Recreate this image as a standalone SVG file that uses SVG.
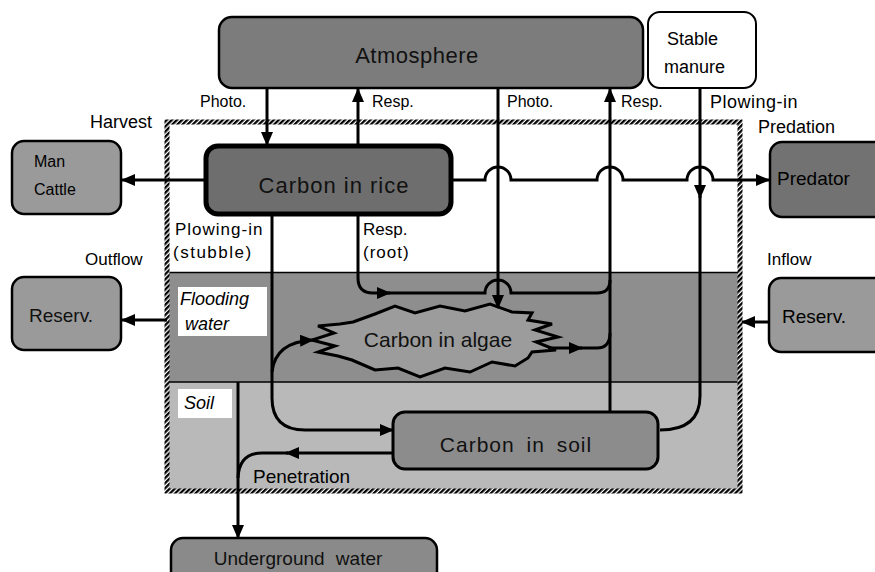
<svg xmlns="http://www.w3.org/2000/svg" width="875" height="572" viewBox="0 0 875 572">
<style>
.c{fill:none;stroke:#000;stroke-width:3}
.n{stroke:#000;stroke-width:2.5}
.t{font-family:"Liberation Sans","DejaVu Sans",sans-serif;fill:#000}
.nt{font-family:"Liberation Sans","DejaVu Sans",sans-serif;fill:#111;text-anchor:middle}
.lbl{font-size:17px}
.it{font-style:italic;font-size:18px}
</style>
<defs>
<marker id="arr" markerUnits="userSpaceOnUse" markerWidth="14" markerHeight="12" refX="13" refY="6" orient="auto">
<path d="M0,0 L14,6 L0,12 z" fill="#000"/>
</marker>
<pattern id="hatch" patternUnits="userSpaceOnUse" width="3.6" height="3.6" patternTransform="rotate(45)">
<rect width="3.6" height="3.6" fill="#fff"/>
<rect width="2.3" height="3.6" fill="#000"/>
</pattern>
</defs>
<rect width="875" height="572" fill="#fff"/>
<g id="layers">
<rect x="169" y="272" width="570" height="110" fill="#8e8e8e"/>
<rect x="169" y="382" width="570" height="108" fill="#b9b9b9"/>
<line x1="169" y1="272.5" x2="739" y2="272.5" stroke="#000" stroke-width="1.5"/>
<line x1="169" y1="382" x2="739" y2="382" stroke="#000" stroke-width="1.5"/>
</g>
<g id="flooding-label">
<rect x="178" y="287" width="89" height="49" fill="#fff"/>
<text class="t it" x="180" y="305">Flooding</text>
<text class="t it" x="185" y="330">water</text>
</g>
<g id="soil-label">
<rect x="178" y="389" width="54" height="29" fill="#fff"/>
<text class="t it" x="184" y="409" font-size="17">Soil</text>
</g>
<g id="atmosphere">
<rect class="n" x="219" y="17" width="424" height="71" rx="13" fill="#7c7c7c"/>
<text class="nt" x="417" y="63" font-size="22" letter-spacing="0.5">Atmosphere</text>
</g>
<g id="stable-manure">
<rect x="648" y="12" width="108" height="76" rx="12" fill="#fff" stroke="#000" stroke-width="2"/>
<text class="t" x="667" y="45" font-size="18">Stable</text>
<text class="t" x="664" y="73" font-size="18">manure</text>
</g>
<g id="man-cattle">
<rect class="n" x="12" y="141" width="109" height="73" rx="12" fill="#9a9a9a"/>
<text class="t" x="34" y="167" font-size="16">Man</text>
<text class="t" x="34" y="195" font-size="16">Cattle</text>
</g>
<g id="carbon-rice">
<rect x="206" y="146" width="245" height="68" rx="12" fill="#6e6e6e" stroke="#000" stroke-width="5"/>
<text class="nt" x="334" y="193" font-size="22" letter-spacing="1">Carbon in rice</text>
</g>
<g id="predator">
<rect class="n" x="770" y="142" width="120" height="75" rx="12" fill="#727272"/>
<text class="t" x="777" y="185" font-size="19">Predator</text>
</g>
<g id="reserv-left">
<rect class="n" x="12" y="277" width="109" height="73" rx="12" fill="#9a9a9a"/>
<text class="nt" x="61" y="322" font-size="19">Reserv.</text>
</g>
<g id="reserv-right">
<rect class="n" x="769" y="278" width="120" height="74" rx="12" fill="#9a9a9a"/>
<text class="t" x="782" y="323" font-size="19">Reserv.</text>
</g>
<g id="carbon-algae">
<polygon points="353,322 375,314 395,306 415,313 440,306 465,311 490,304 512,312 532,313 528,320 552,324 535,330 558,337 536,342 556,350 532,352 528,358 515,366 492,362 470,372 445,368 420,377 398,368 375,370 352,360 338,356 318,352 335,346 312,340 334,333 318,326 340,324" fill="#9c9c9c" stroke="#000" stroke-width="3"/>
<text class="nt" x="438" y="347" font-size="21">Carbon in algae</text>
</g>
<g id="carbon-soil">
<rect x="393" y="412" width="265" height="57" rx="12" fill="#8c8c8c" stroke="#000" stroke-width="3"/>
<text class="nt" x="516" y="452" font-size="21" letter-spacing="1" word-spacing="5">Carbon in soil</text>
</g>
<g id="underground-water">
<rect class="n" x="171" y="538" width="266" height="45" rx="12" fill="#8a8a8a"/>
<text class="nt" x="298" y="565" font-size="19" word-spacing="6">Underground water</text>
</g>
<g id="boundary">
<rect x="167" y="122" width="573" height="369" fill="none" stroke="url(#hatch)" stroke-width="5"/>
</g>
<g id="connectors">
<path class="c" d="M206,180 H122" marker-end="url(#arr)"/>
<path class="c" d="M267,88 V145" marker-end="url(#arr)"/>
<path class="c" d="M358,145 V89" marker-end="url(#arr)"/>
<path class="c" d="M498,88 V308" marker-end="url(#arr)"/>
<path class="c" d="M610,412 V89" marker-end="url(#arr)"/>
<path class="c" d="M700,88 V198" marker-end="url(#arr)"/>
<path class="c" d="M700,196 V396 Q700,430 660,430"/>
<path class="c" d="M451,180 H485 A13,13 0 0 1 511,180 H597 A13,13 0 0 1 623,180 H687 A13,13 0 0 1 713,180 H769" marker-end="url(#arr)"/>
<path class="c" d="M272,214 V398 Q272,430 305,430 H393" marker-end="url(#arr)"/>
<path class="c" d="M358,214 V278 Q358,293 373,293 H390" marker-end="url(#arr)"/>
<path class="c" d="M388,293 H485 A13,13 0 0 1 511,293 H597 Q610,293 610,280"/>
<path class="c" d="M548,348 H582" marker-end="url(#arr)"/>
<path class="c" d="M580,348 H597 Q610,348 610,333"/>
<path class="c" d="M272,372 Q275,342 313,340" marker-end="url(#arr)"/>
<path class="c" d="M393,453 H286" marker-end="url(#arr)"/>
<path class="c" d="M288,453 H262 Q239,453 238,478"/>
<path class="c" d="M238,382 V538" marker-end="url(#arr)"/>
<path class="c" d="M167,320 H122" marker-end="url(#arr)"/>
<path class="c" d="M769,322 H742" marker-end="url(#arr)"/>
</g>
<g id="labels">
<text class="t" x="90" y="128" font-size="18">Harvest</text>
<text class="t" x="200" y="107" font-size="16">Photo.</text>
<text class="t" x="372" y="107" font-size="16">Resp.</text>
<text class="t" x="507" y="107" font-size="16">Photo.</text>
<text class="t" x="621" y="107" font-size="16">Resp.</text>
<text class="t" x="710" y="108" font-size="18" letter-spacing="0.5">Plowing-in</text>
<text class="t" x="758" y="133" font-size="18">Predation</text>
<text class="t lbl" x="175" y="235" letter-spacing="1">Plowing-in</text>
<text class="t lbl" x="173" y="258" letter-spacing="1.5">(stubble)</text>
<text class="t lbl" x="363" y="235">Resp.</text>
<text class="t lbl" x="363" y="258" letter-spacing="1">(root)</text>
<text class="t lbl" x="85" y="265">Outflow</text>
<text class="t lbl" x="767" y="265">Inflow</text>
<text class="t" x="253" y="483" font-size="19">Penetration</text>
</g>
</svg>
